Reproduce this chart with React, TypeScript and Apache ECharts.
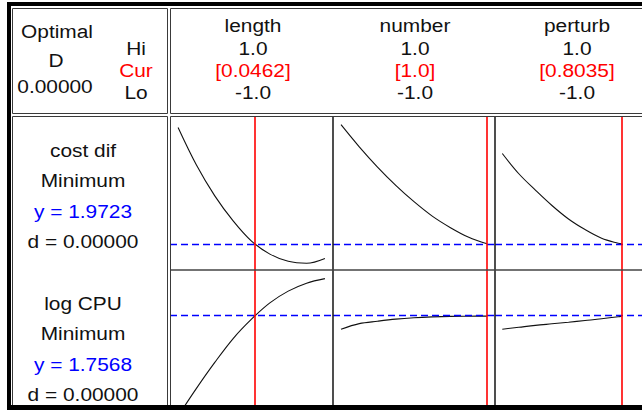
import React, { useEffect, useRef } from "react";
import * as echarts from "echarts";

// ---- data ----
const factorNames = ["length", "number", "perturb"];
const hiLabels = ["1.0", "1.0", "1.0"];
const curLabels = ["[0.0462]", "[1.0]", "[0.8035]"];
const loLabels = ["-1.0", "-1.0", "-1.0"];
const curValues = [0.0462, 1.0, 0.8035];

const responseNames = ["cost dif", "log CPU"];
const goals = ["Minimum", "Minimum"];
const yLabels = ["y = 1.9723", "y = 1.7568"];
const dLabels = ["d = 0.00000", "d = 0.00000"];
const yCurrent = [1.9723, 1.7568];
const optimalD = "0.00000";

const xLevels = [-1, -0.75, -0.5, -0.25, 0, 0.25, 0.5, 0.75, 1];
const xPerturb = [-1, -0.75, -0.5, -0.25, 0, 0.25, 0.5, 0.75, 0.8035];

const costLength = [3.18, 2.79, 2.47, 2.21, 2.0, 1.865, 1.79, 1.77, 1.82];
const costNumber = [3.21, 2.98, 2.77, 2.58, 2.41, 2.26, 2.14, 2.04, 1.9723];
const costPerturb = [2.91, 2.7, 2.53, 2.37, 2.23, 2.12, 2.03, 1.978, 1.9723];
const cpuLength = [1.468, 1.548, 1.623, 1.692, 1.748, 1.795, 1.829, 1.852, 1.865];
const cpuNumber = [1.719, 1.735, 1.742, 1.748, 1.752, 1.7545, 1.756, 1.7565, 1.7568];
const cpuPerturb = [1.719, 1.7245, 1.73, 1.7345, 1.739, 1.744, 1.749, 1.755, 1.7568];

const yRanges = [
  [1.7, 3.3],
  [1.5, 1.89],
];

// ---- layout ----
const FONT = "Liberation Sans";
const FS = 18;
const SX = 1.16;
const panelLefts = [170, 333, 495];
const panelWidths = [163, 162, 163];
const rowTops = [116, 270];
const rowHeights = [154, 135];
const colCenters = [253, 415, 577];
const headerRows = [26, 49, 71, 93];
const labelRows = [
  [151, 181, 212, 242],
  [304, 334, 365, 395],
];

function txt(text: string, x: number, y: number, fill = "#111") {
  return {
    type: "text",
    x,
    y,
    scaleX: SX,
    scaleY: 1,
    z: 200,
    silent: true,
    style: {
      text,
      fill,
      fontSize: FS,
      fontFamily: FONT,
      align: "center",
      verticalAlign: "middle",
      textAlign: "center",
      textVerticalAlign: "middle",
    },
  };
}

function line(x1: number, y1: number, x2: number, y2: number, stroke: string, lineWidth: number) {
  return {
    type: "line",
    z: 150,
    silent: true,
    shape: { x1, y1, x2, y2 },
    style: { stroke, lineWidth },
  };
}

function rect(x: number, y: number, w: number, h: number, style: any) {
  return { type: "rect", z: 160, silent: true, shape: { x, y, width: w, height: h }, style };
}

export default function App() {
  const ref = useRef<HTMLDivElement>(null);
  useEffect(() => {
    if (!ref.current) return;
    const chart = echarts.init(ref.current, null, { renderer: "svg" });

    const curveData = [
      [costLength, costNumber, costPerturb],
      [cpuLength, cpuNumber, cpuPerturb],
    ];
    const xs = [xLevels, xLevels, xPerturb];

    const grids: any[] = [];
    const xAxes: any[] = [];
    const yAxes: any[] = [];
    const series: any[] = [];
    let idx = 0;
    for (let r = 0; r < 2; r++) {
      for (let c = 0; c < 3; c++) {
        grids.push({
          left: panelLefts[c],
          top: rowTops[r],
          width: panelWidths[c],
          height: rowHeights[r],
          containLabel: false,
        });
        xAxes.push({
          type: "value",
          gridIndex: idx,
          min: -1.11,
          max: 1.11,
          show: false,
        });
        yAxes.push({
          type: "value",
          gridIndex: idx,
          min: yRanges[r][0],
          max: yRanges[r][1],
          show: false,
        });
        const data = xs[c].map((x, i) => [x, curveData[r][c][i]]);
        series.push({
          type: "line",
          xAxisIndex: idx,
          yAxisIndex: idx,
          data,
          smooth: 0.35,
          showSymbol: false,
          symbol: "none",
          clip: true,
          lineStyle: { color: "#111", width: 1.1 },
          markLine: {
            silent: true,
            symbol: ["none", "none"],
            label: { show: false },
            data: [
              {
                yAxis: yCurrent[r],
                lineStyle: { color: "#0000ff", type: [7, 4], width: 1.3 },
              },
              {
                xAxis: curValues[c],
                lineStyle: { color: "#ff0000", type: "solid", width: 1.6 },
              },
            ],
          },
        });
        idx++;
      }
    }

    const graphics: any[] = [];
    // cell borders
    const cellStroke = { fill: "none", stroke: "#3a3a3a", lineWidth: 1 };
    graphics.push(rect(12.5, 8.5, 155, 105, cellStroke));
    graphics.push(rect(170.5, 8.5, 500, 105, cellStroke));
    graphics.push(rect(12.5, 116.5, 155, 300, cellStroke));
    graphics.push(rect(170.5, 116.5, 500, 300, cellStroke));
    // panel separators
    graphics.push(line(333, 116, 333, 405, "#222", 1.6));
    graphics.push(line(495, 116, 495, 405, "#222", 1.6));
    graphics.push(line(170, 270, 642, 270, "#444", 1.6));
    // black frame
    graphics.push(rect(7, 2, 635, 4, { fill: "#000" }));
    graphics.push(rect(7, 2, 4, 408, { fill: "#000" }));
    graphics.push(rect(7, 405, 635, 5, { fill: "#000" }));

    // header left
    graphics.push(txt("Optimal", 57, 32));
    graphics.push(txt("D", 56, 61));
    graphics.push(txt(optimalD, 55, 87));
    graphics.push(txt("Hi", 136, headerRows[1]));
    graphics.push(txt("Cur", 136, headerRows[2], "#ff0000"));
    graphics.push(txt("Lo", 136, headerRows[3]));
    // factor headers
    for (let c = 0; c < 3; c++) {
      graphics.push(txt(factorNames[c], colCenters[c], headerRows[0]));
      graphics.push(txt(hiLabels[c], colCenters[c], headerRows[1]));
      graphics.push(txt(curLabels[c], colCenters[c], headerRows[2], "#ff0000"));
      graphics.push(txt(loLabels[c], colCenters[c], headerRows[3]));
    }
    // response labels
    for (let r = 0; r < 2; r++) {
      graphics.push(txt(responseNames[r], 83, labelRows[r][0]));
      graphics.push(txt(goals[r], 83, labelRows[r][1]));
      graphics.push(txt(yLabels[r], 83, labelRows[r][2], "#0000ff"));
      graphics.push(txt(dLabels[r], 83, labelRows[r][3]));
    }

    chart.setOption({
      animation: false,
      backgroundColor: "#fff",
      grid: grids,
      xAxis: xAxes,
      yAxis: yAxes,
      series,
      graphic: { elements: graphics },
    });
    return () => chart.dispose();
  }, []);
  return (
    <div
      ref={ref}
      style={{ position: "fixed", left: 0, top: 0, width: 642, height: 410, background: "#fff" }}
    />
  );
}
